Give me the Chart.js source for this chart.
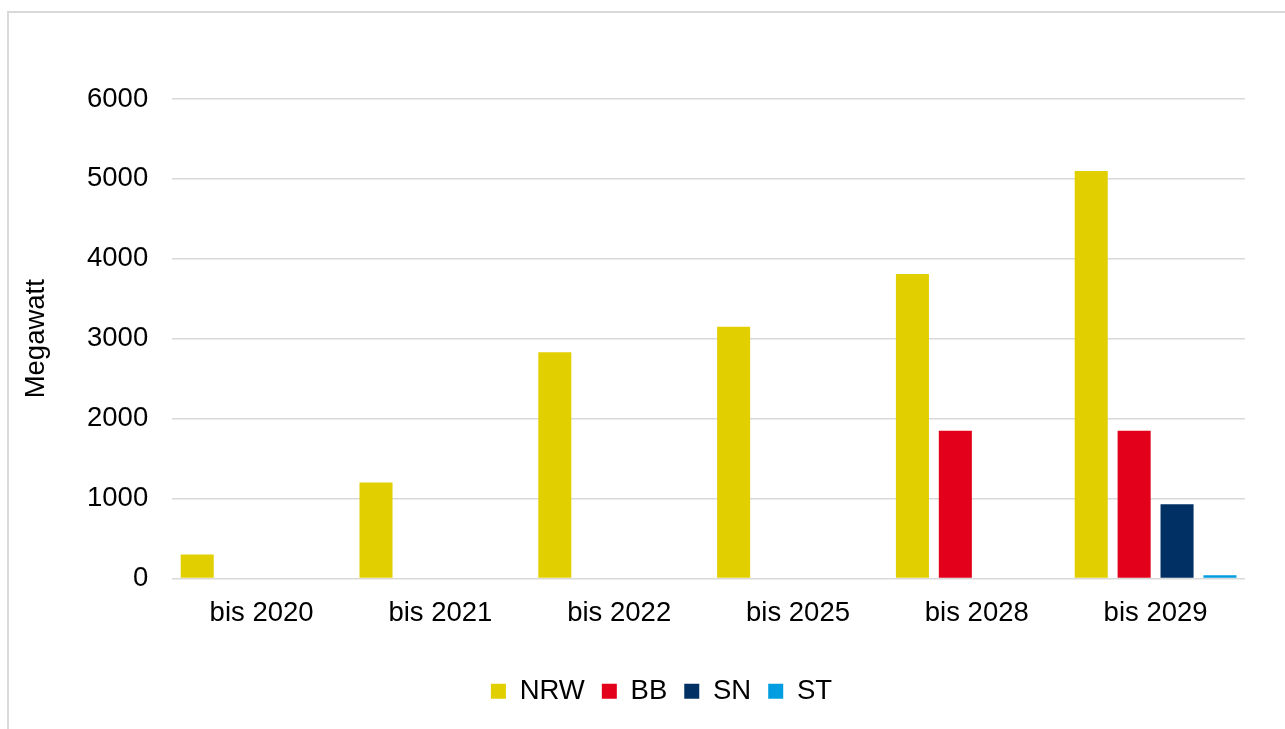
<!DOCTYPE html>
<html>
<head>
<meta charset="utf-8">
<script src="https://cdn.jsdelivr.net/npm/chart.js@4/dist/chart.umd.min.js"></script>
<style>
  html, body { margin: 0; padding: 0; background: #fff; }
  #frame {
    position: absolute; left: 7px; top: 11px;
    width: 1290px; height: 730px;
    border: 2px solid #d9d9d9; box-sizing: border-box;
  }
  #chart { position: absolute; left: 0; top: 0; }
</style>
</head>
<body>
<div id="frame"></div>
<canvas id="chart" width="1285" height="729"></canvas>
<script>
const categories = ['bis 2020', 'bis 2021', 'bis 2022', 'bis 2025', 'bis 2028', 'bis 2029'];
const nrw = [300, 1200, 2830, 3150, 3810, 5100];
const bb = [0, 0, 0, 0, 1850, 1850];
const sn = [0, 0, 0, 0, 0, 930];
const st = [0, 0, 0, 0, 0, 40];
const yTicks = [0, 1000, 2000, 3000, 4000, 5000, 6000];

Chart.defaults.font.family = '"Liberation Sans", Arial, sans-serif';
Chart.defaults.color = '#000';

const fontSize = 27.5;

const datasets = [
  { label: 'NRW', data: nrw, backgroundColor: '#e2cf00' },
  { label: 'BB', data: bb, backgroundColor: '#e2001a' },
  { label: 'SN', data: sn, backgroundColor: '#003064' },
  { label: 'ST', data: st, backgroundColor: '#009ee0' }
];

// legend in the original sits a bit right of the canvas centre
const shiftLegend = {
  id: 'shiftLegend',
  afterLayout(chart) {
    chart.legend.left += 29;
    chart.legend.right += 29;
  }
};

const myChart = new Chart(document.getElementById('chart'), {
  type: 'bar',
  data: { labels: categories, datasets: datasets },
  plugins: [shiftLegend],
  options: {
    responsive: false,
    animation: false,
    categoryPercentage: 0.96,
    barPercentage: 0.77,
    layout: { padding: { left: 20, right: 40, top: 99, bottom: 14 } },
    plugins: {
      tooltip: { enabled: false },
      legend: {
        position: 'bottom',
        labels: {
          font: { size: fontSize },
          boxWidth: 15,
          boxHeight: 15,
          padding: 17
        }
      }
    },
    scales: {
      x: {
        grid: { display: false },
        border: { display: false },
        ticks: { font: { size: fontSize }, padding: 10 },
        afterFit: (scale) => { scale.height += 21; }
      },
      y: {
        min: 0,
        max: 6000,
        afterBuildTicks: (axis) => { axis.ticks = yTicks.map((v) => ({ value: v })); },
        grid: { color: '#d9d9d9', lineWidth: 1.5, drawTicks: false },
        border: { display: false },
        ticks: { font: { size: fontSize }, padding: 24, callback: (v) => String(v) },
        title: { display: true, text: 'Megawatt', font: { size: fontSize }, padding: { top: 0, bottom: 10 } }
      }
    }
  }
});
</script>
</body>
</html>
